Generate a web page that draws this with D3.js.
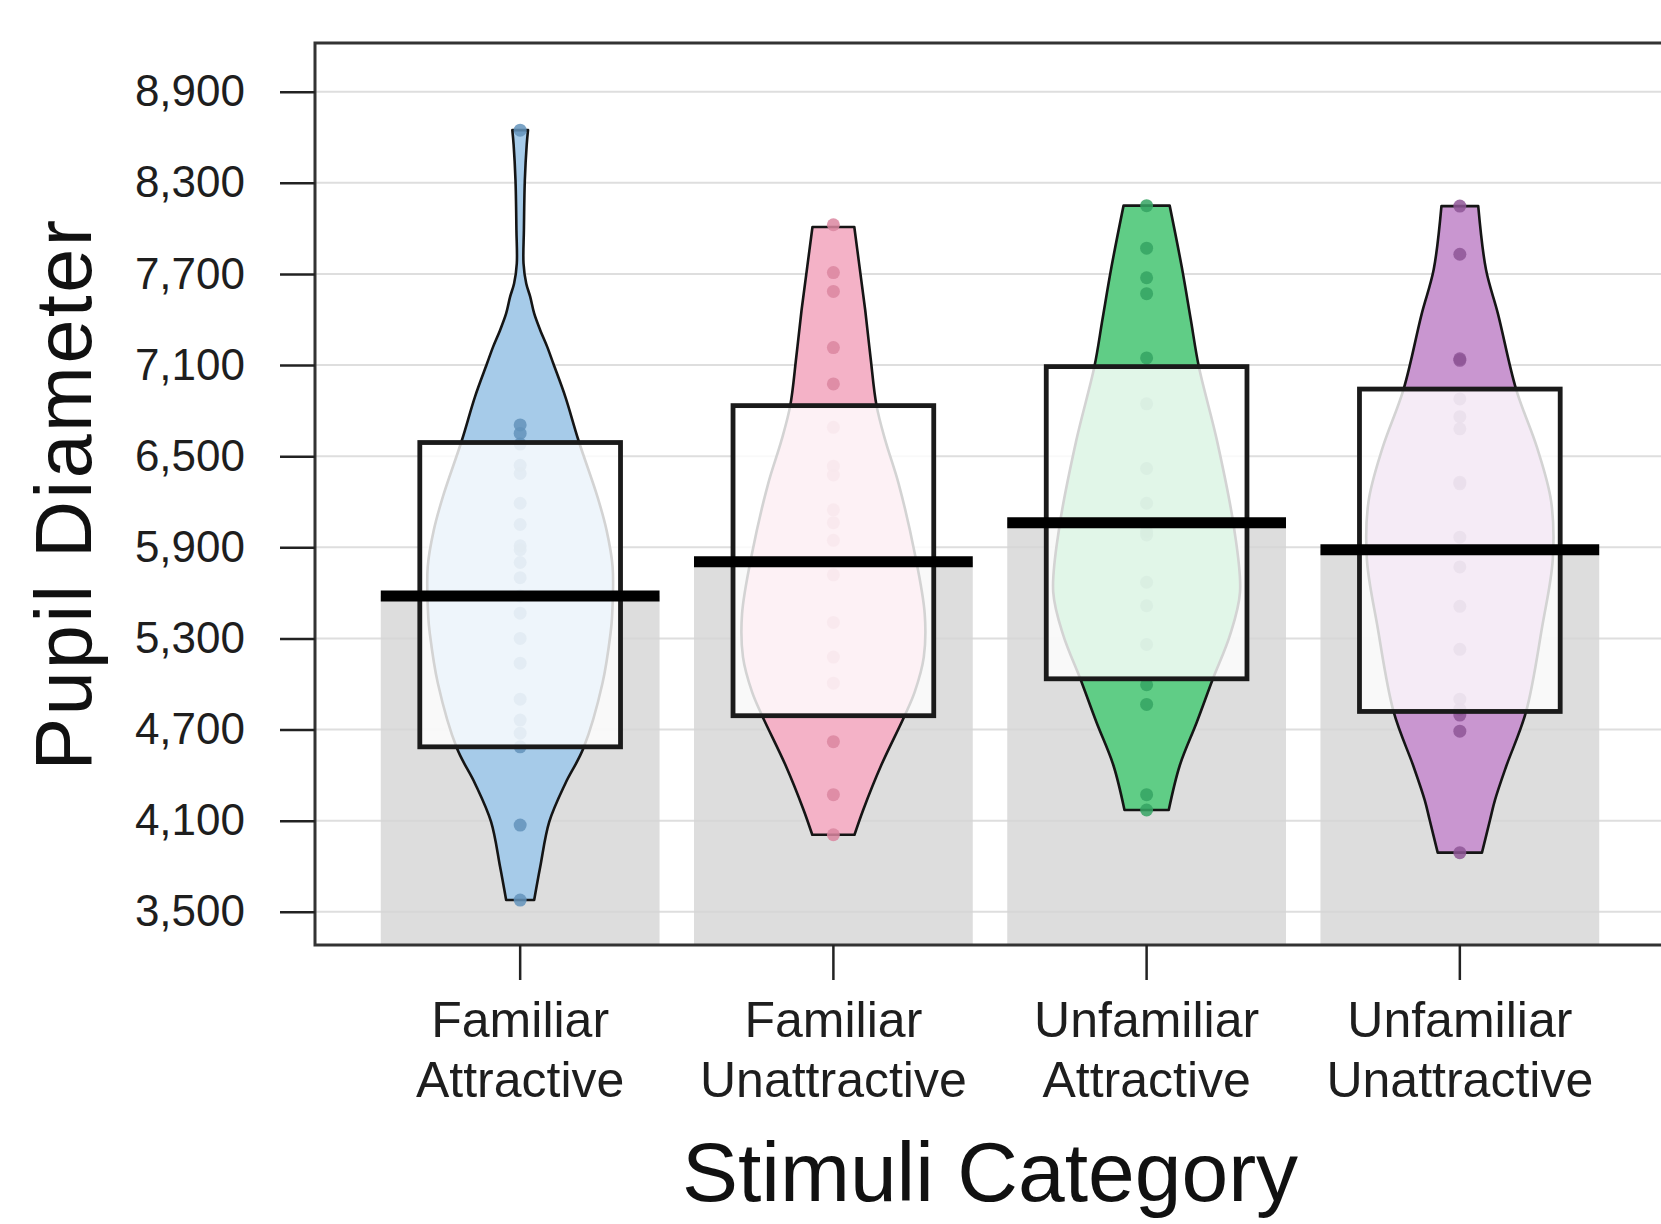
<!DOCTYPE html>
<meta charset="utf-8">
<style>
body {
  margin: 0;
  background: #fff;
  font-family: "Liberation Sans", Arial, Helvetica, sans-serif;
}
svg { display: block; }
.tick text { fill: #1e1e1e; }
.tick line { stroke: #222; stroke-width: 2.5; }
</style>

<svg id="chart" width="1661" height="1224"></svg>

<script src="https://cdn.jsdelivr.net/npm/d3@7"></script>
<script>

// ---- data ----
var categories = ["Familiar Attractive", "Familiar Unattractive", "Unfamiliar Attractive", "Unfamiliar Unattractive"];
var labelLines = [["Familiar", "Attractive"], ["Familiar", "Unattractive"], ["Unfamiliar", "Attractive"], ["Unfamiliar", "Unattractive"]];
var yTicks = [3500, 4100, 4700, 5300, 5900, 6500, 7100, 7700, 8300, 8900];

var means   = [5580, 5805, 6062, 5884];
var infLow  = [4586, 4791, 5034, 4819];
var infHigh = [6590, 6833, 7090, 6942];

var fillColors  = ["#a6cbe9", "#f4b2c7", "#60cd86", "#c996d0"];
var pointColors = ["#6393bb", "#da86a0", "#35a363", "#8e5697"];

// raw observations (approx.)
var pointsFA = [8647, 6706, 6650, 6580, 6440, 6386, 6190, 6050, 5910, 5884, 5800, 5700, 5580, 5466, 5300, 5137, 4900, 4762, 4676, 4586, 4071, 3577];
var pointsFU = [8024, 7709, 7585, 7215, 6976, 6690, 6434, 6376, 6147, 6062, 5946, 5719, 5405, 5177, 5005, 4620, 4271, 4007];
var pointsUA = [8150, 7870, 7675, 7570, 7147, 6845, 6419, 6190, 6004, 5981, 5670, 5515, 5260, 4995, 4865, 4271, 4170];
var pointsUU = [8147, 7830, 7141, 7131, 6877, 6760, 6680, 6329, 6318, 5967, 5771, 5511, 5228, 4900, 4834, 4795, 4689, 3889];

// bean outlines: [value, relative density]
var beanFA = [[8647, 0.084], [8550, 0.07], [8317, 0.05], [7988, 0.04], [7769, 0.036], [7637, 0.065], [7549, 0.108],
  [7440, 0.15], [7330, 0.215], [7220, 0.29], [7110, 0.355], [6891, 0.484], [6605, 0.624], [6232, 0.828], [6013, 0.925],
  [5771, 0.99], [5442, 0.984], [5335, 0.968], [5006, 0.882], [4576, 0.677], [4345, 0.484], [4093, 0.312], [3796, 0.215], [3577, 0.15]];
var beanFU = [[8009, 0.224], [7747, 0.28], [7461, 0.341], [7150, 0.398], [6833, 0.462], [6604, 0.556], [6318, 0.699],
  [5861, 0.871], [5462, 0.978], [5177, 0.968], [4948, 0.871], [4791, 0.763], [4463, 0.511], [4177, 0.323], [4007, 0.226]];
var beanUA = [[8150, 0.247], [7747, 0.376], [7400, 0.473], [7090, 0.559], [6604, 0.753], [6032, 0.935], [5605, 1.0],
  [5320, 0.892], [5034, 0.71], [4749, 0.538], [4463, 0.355], [4170, 0.237]];
var beanUU = [[8147, 0.197], [7729, 0.28], [7436, 0.409], [6942, 0.602], [6554, 0.828], [6201, 0.978], [5819, 0.995],
  [5378, 0.882], [4819, 0.71], [4455, 0.495], [4235, 0.376], [4104, 0.323], [3889, 0.237]];

var pointSets = [pointsFA, pointsFU, pointsUA, pointsUU];
var beanSets = [beanFA, beanFU, beanUA, beanUU];

// ---- layout ----
var plotLeft = 315, plotRight = 1665, plotTop = 43, plotBottom = 945;

var svg = d3.select("#chart");

var x = d3.scaleBand()
    .domain(categories)
    .range([plotLeft, plotRight])
    .paddingInner(0.11)
    .paddingOuter(0.21);

var y = d3.scaleLinear()
    .domain([3281, 9221])
    .range([plotBottom, plotTop]);

var bw = x.bandwidth();
var halfWidth = d3.scaleLinear().domain([0, 1]).range([0, bw * 0.335]);
var boxW = bw * 0.72;

// gridlines
svg.append("g")
  .selectAll("line")
  .data(yTicks)
  .enter().append("line")
    .attr("x1", plotLeft)
    .attr("x2", plotRight)
    .attr("y1", function(d) { return y(d); })
    .attr("y2", function(d) { return y(d); })
    .attr("stroke", "#dedede")
    .attr("stroke-width", 2);

var groups = categories.map(function(c, i) {
  return {
    cat: c,
    cx: x(c) + bw / 2,
    mean: means[i],
    lo: infLow[i],
    hi: infHigh[i],
    fill: fillColors[i],
    pcol: pointColors[i],
    points: pointSets[i],
    bean: beanSets[i].slice().sort(function(a, b) { return a[0] - b[0]; })
  };
});

// bars
svg.append("g")
  .selectAll("rect")
  .data(groups)
  .enter().append("rect")
    .attr("x", function(d) { return x(d.cat); })
    .attr("width", bw)
    .attr("y", function(d) { return y(d.mean); })
    .attr("height", function(d) { return plotBottom - y(d.mean); })
    .attr("fill", "#d4d4d4")
    .attr("fill-opacity", 0.8);

// beans
svg.append("g")
  .selectAll("path")
  .data(groups)
  .enter().append("path")
    .attr("d", function(d) {
      return d3.area()
        .curve(d3.curveCatmullRom)
        .y(function(p) { return y(p[0]); })
        .x0(function(p) { return d.cx - halfWidth(p[1]); })
        .x1(function(p) { return d.cx + halfWidth(p[1]); })(d.bean);
    })
    .attr("fill", function(d) { return d.fill; })
    .attr("stroke", "#151515")
    .attr("stroke-width", 2.6)
    .attr("stroke-linejoin", "round");

// points
groups.forEach(function(g) {
  svg.append("g")
    .selectAll("circle")
    .data(g.points)
    .enter().append("circle")
      .attr("cx", g.cx)
      .attr("cy", function(d) { return y(d); })
      .attr("r", 6.5)
      .attr("fill", g.pcol)
      .attr("fill-opacity", 0.85);
});

// inference bands
svg.append("g")
  .selectAll("rect")
  .data(groups)
  .enter().append("rect")
    .attr("x", function(d) { return d.cx - boxW / 2; })
    .attr("width", boxW)
    .attr("y", function(d) { return y(d.hi); })
    .attr("height", function(d) { return y(d.lo) - y(d.hi); })
    .attr("fill", "#fff")
    .attr("fill-opacity", 0.81)
    .attr("stroke", "#1a1a1a")
    .attr("stroke-width", 4.8);

// mean lines
svg.append("g")
  .selectAll("line")
  .data(groups)
  .enter().append("line")
    .attr("x1", function(d) { return x(d.cat); })
    .attr("x2", function(d) { return x(d.cat) + bw; })
    .attr("y1", function(d) { return y(d.mean); })
    .attr("y2", function(d) { return y(d.mean); })
    .attr("stroke", "#000")
    .attr("stroke-width", 11);

// frame
svg.append("rect")
  .attr("x", plotLeft)
  .attr("y", plotTop)
  .attr("width", plotRight - plotLeft)
  .attr("height", plotBottom - plotTop)
  .attr("fill", "none")
  .attr("stroke", "#333")
  .attr("stroke-width", 3);

// y axis
var yAxis = svg.append("g")
  .attr("transform", "translate(" + plotLeft + ",0)")
  .call(d3.axisLeft(y).tickValues(yTicks).tickFormat(d3.format(",")).tickSize(35).tickPadding(35));
yAxis.select(".domain").remove();
yAxis.selectAll("text")
  .style("font-size", "44px")
  .style("font-family", "'Liberation Sans', Arial, Helvetica, sans-serif");

// x axis
var xAxis = svg.append("g")
  .attr("transform", "translate(0," + plotBottom + ")")
  .call(d3.axisBottom(x).tickSize(35));
xAxis.select(".domain").remove();
xAxis.selectAll(".tick text").remove();
xAxis.selectAll(".tick").each(function(d, i) {
  var t = d3.select(this).append("text")
    .attr("text-anchor", "middle")
    .style("font-size", "50px")
    .style("font-family", "'Liberation Sans', Arial, Helvetica, sans-serif")
    .attr("fill", "#1e1e1e");
  t.append("tspan").attr("x", 0).attr("y", 92).text(labelLines[i][0]);
  t.append("tspan").attr("x", 0).attr("y", 152).text(labelLines[i][1]);
});

// axis titles
svg.append("text")
  .attr("x", (plotLeft + plotRight) / 2)
  .attr("y", 1201)
  .attr("text-anchor", "middle")
  .style("font-size", "84px")
  .attr("fill", "#111")
  .text("Stimuli Category");

svg.append("text")
  .attr("transform", "translate(91," + (plotTop + plotBottom) / 2 + ") rotate(-90)")
  .attr("text-anchor", "middle")
  .style("font-size", "79px")
  .style("letter-spacing", "2.5px")
  .attr("fill", "#111")
  .text("Pupil Diameter");

</script>
